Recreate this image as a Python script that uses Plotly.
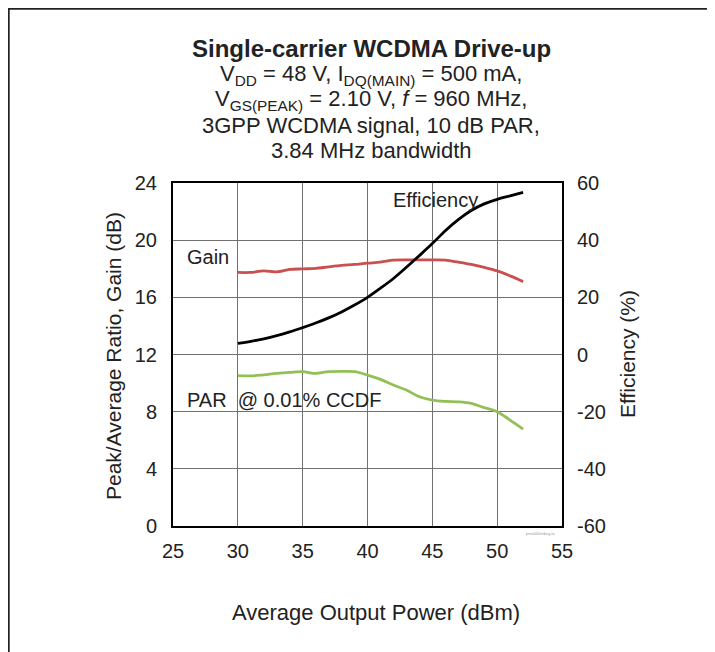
import plotly.graph_objects as go

power = [30, 31, 32, 33, 34, 35, 36, 37, 38, 39, 40, 41, 42, 43, 44, 45, 46, 47, 48, 49, 50, 51, 52]
gain = [17.74, 17.74, 17.85, 17.78, 17.95, 17.99, 18.02, 18.13, 18.23, 18.30, 18.39, 18.46, 18.60, 18.62,
        18.62, 18.62, 18.60, 18.46, 18.30, 18.09, 17.85, 17.50, 17.10]
par = [10.52, 10.50, 10.58, 10.68, 10.75, 10.80, 10.68, 10.80, 10.82, 10.80, 10.56, 10.26, 9.86, 9.51,
       9.04, 8.81, 8.72, 8.69, 8.58, 8.28, 8.00, 7.41, 6.78]
efficiency = [3.9, 4.6, 5.5, 6.6, 7.9, 9.4, 11.0, 12.8, 14.9, 17.3, 20.0, 23.2, 26.6, 30.5, 34.6, 38.8,
              43.3, 47.2, 50.4, 52.7, 54.3, 55.5, 56.7]

x_ticks = [25, 30, 35, 40, 45, 50, 55]
left_ticks = [0, 4, 8, 12, 16, 20, 24]
right_ticks = [-60, -40, -20, 0, 20, 40, 60]

title_lines = [
    "<b>Single-carrier WCDMA Drive-up</b>",
    "V<sub>DD</sub> = 48 V, I<sub>DQ(MAIN)</sub> = 500 mA,",
    "V<sub>GS(PEAK)</sub> = 2.10 V, <i>f</i> = 960 MHz,",
    "3GPP WCDMA signal, 10 dB PAR,",
    "3.84 MHz bandwidth",
]

FONT = "Liberation Sans, Arial, sans-serif"
TXT = "#222222"

# page has an 8px body margin; figure is drawn at (8, 8) in the window
OFF = 8
W, H = 715 - OFF, 652 - OFF
# plot-area frame in window pixels
PX0, PX1, PY0, PY1 = 173, 562, 183, 526


def px(xp):
    return (xp - PX0) / (PX1 - PX0)


def py(yp):
    return (PY1 - yp) / (PY1 - PY0)


fig = go.Figure()
fig.add_trace(go.Scatter(x=power, y=gain, mode="lines", line=dict(color="#c9504f", width=2.8, shape="spline"),
                         showlegend=False))
fig.add_trace(go.Scatter(x=power, y=par, mode="lines", line=dict(color="#92c057", width=2.8, shape="spline"),
                         showlegend=False))
fig.add_trace(go.Scatter(x=power, y=efficiency, mode="lines", yaxis="y2",
                         line=dict(color="#000000", width=2.8, shape="spline"), showlegend=False))

annotations = []
title_y = [48, 75, 100, 125, 150]
for i, (line, yy) in enumerate(zip(title_lines, title_y)):
    annotations.append(dict(text=line, xref="paper", yref="paper", x=px(371), y=py(yy), xanchor="center",
                            yanchor="middle", showarrow=False,
                            font=dict(size=24 if i == 0 else 22, color=TXT)))

annotations += [
    dict(text="Peak/Average Ratio, Gain (dB)", xref="paper", yref="paper", x=px(113), y=py(356),
         textangle=-90, xanchor="center", yanchor="middle", showarrow=False, font=dict(size=21, color=TXT)),
    dict(text="Efficiency (%)", xref="paper", yref="paper", x=px(627), y=py(354),
         textangle=-90, xanchor="center", yanchor="middle", showarrow=False, font=dict(size=21, color=TXT)),
    dict(text="Average Output Power (dBm)", xref="paper", yref="paper", x=px(376), y=py(612),
         xanchor="center", yanchor="middle", showarrow=False, font=dict(size=22, color=TXT)),
    dict(text="Efficiency", xref="x", yref="y", x=41.8, y=22.8, xanchor="left", yanchor="middle",
         showarrow=False, font=dict(size=20, color=TXT)),
    dict(text="Gain", xref="x", yref="y", x=25.9, y=18.8, xanchor="left", yanchor="middle",
         showarrow=False, font=dict(size=20, color=TXT)),
    dict(text="PAR &nbsp;@ 0.01% CCDF", xref="x", yref="y", x=25.9, y=8.8, xanchor="left", yanchor="middle",
         showarrow=False, font=dict(size=20, color=TXT)),
    dict(text="pna0000nbcg-la", xref="paper", yref="paper", x=px(540), y=py(533), xanchor="center",
         yanchor="middle", showarrow=False, font=dict(size=4, color="#999999")),
]

fig.update_layout(
    width=W, height=H,
    margin=dict(l=PX0 - OFF, r=715 - PX1, t=PY0 - OFF, b=652 - PY1, autoexpand=False),
    paper_bgcolor="white", plot_bgcolor="white",
    font=dict(family=FONT, color=TXT, size=16),
    xaxis=dict(range=[25, 55], tickvals=x_ticks, ticktext=[str(v) for v in x_ticks], ticks="",
               showgrid=True, gridcolor="#707070", gridwidth=1, automargin=False,
               showline=True, linecolor="black", linewidth=2, mirror=True, zeroline=False,
               tickfont=dict(size=20, color=TXT), ticklabelstandoff=6),
    yaxis=dict(range=[0, 24], tickvals=left_ticks, ticktext=[str(v) for v in left_ticks], ticks="",
               showgrid=True, gridcolor="#707070", gridwidth=1, automargin=False,
               showline=True, linecolor="black", linewidth=2, mirror=True, zeroline=False,
               tickfont=dict(size=20, color=TXT), ticklabelstandoff=10),
    yaxis2=dict(range=[-60, 60], tickvals=right_ticks, ticktext=[str(v) for v in right_ticks],
                overlaying="y", side="right", showgrid=False, automargin=False,
                zeroline=False, ticks="", tickfont=dict(size=20, color=TXT), ticklabelstandoff=14),
    annotations=annotations,
    shapes=[
        dict(type="rect", xref="paper", yref="paper", x0=px(8.8), x1=px(760), y0=py(720), y1=py(8.8),
             line=dict(color="#222222", width=1.8), layer="below"),
    ],
)

fig.write_html("out.html")
